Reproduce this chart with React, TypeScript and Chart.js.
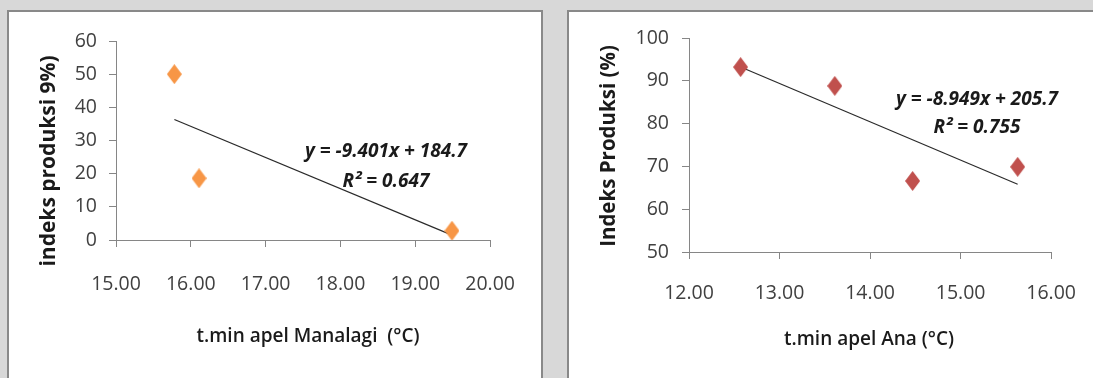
import React, { useEffect, useRef } from "react";
import { Chart, registerables } from "chart.js";

Chart.register(...registerables);

// ---- Data: Manalagi (left chart)
const manalagiTemp = [15.78, 16.11, 19.49];
const manalagiIndex = [50, 18.6, 2.8];
const manalagiSlope = -9.401;
const manalagiIntercept = 184.7;
const manalagiEquation = "y = -9.401x + 184.7";
const manalagiR2 = "R² = 0.647";
const manalagiXTitle = "t.min apel Manalagi  (°C)";
const manalagiYTitle = "indeks produksi 9%)";
const manalagiXRange = [15, 20];
const manalagiYRange = [0, 60];

// ---- Data: Ana (right chart)
const anaTemp = [12.57, 13.61, 14.47, 15.63];
const anaIndex = [93.2, 88.8, 66.6, 69.9];
const anaSlope = -8.949;
const anaIntercept = 205.7;
const anaEquation = "y = -8.949x + 205.7";
const anaR2 = "R² = 0.755";
const anaXTitle = "t.min apel Ana (°C)";
const anaYTitle = "Indeks Produksi (%)";
const anaXRange = [12, 16];
const anaYRange = [50, 100];

const FONT = "'Open Sans', 'Liberation Sans', sans-serif";

function makeDiamond(color: string) {
  const c = document.createElement("canvas");
  const w = 15;
  const h = 20;
  c.width = w;
  c.height = h;
  const g = c.getContext("2d")!;
  g.fillStyle = color;
  g.beginPath();
  g.moveTo(w / 2, 0);
  g.lineTo(w, h / 2);
  g.lineTo(w / 2, h);
  g.lineTo(0, h / 2);
  g.closePath();
  g.fill();
  return c;
}

type TextItem = {
  text: string;
  x: number;
  y: number;
  font: string;
  rotate?: number;
};

function textPlugin(items: TextItem[]) {
  return {
    id: "fixedTexts",
    afterDraw(chart: any) {
      const ctx = chart.ctx as CanvasRenderingContext2D;
      ctx.save();
      ctx.fillStyle = "#1a1a1a";
      ctx.textAlign = "center";
      ctx.textBaseline = "middle";
      for (const it of items) {
        ctx.save();
        ctx.font = it.font;
        ctx.translate(it.x, it.y);
        if (it.rotate) ctx.rotate(it.rotate);
        ctx.fillText(it.text, 0, 0);
        ctx.restore();
      }
      ctx.restore();
    },
  };
}

type Spec = {
  xs: number[];
  ys: number[];
  slope: number;
  intercept: number;
  color: string;
  xRange: number[];
  yRange: number[];
  axisLeft: number;
  axisBottom: number;
  padTop: number;
  padRight: number;
  xPad: number;
  yPad: number;
  texts: TextItem[];
};

function ScatterChart({ spec, width, height }: { spec: Spec; width: number; height: number }) {
  const ref = useRef<HTMLCanvasElement | null>(null);
  useEffect(() => {
    if (!ref.current) return;
    const minX = Math.min(...spec.xs);
    const maxX = Math.max(...spec.xs);
    const trend = [
      { x: minX, y: spec.slope * minX + spec.intercept },
      { x: maxX, y: spec.slope * maxX + spec.intercept },
    ];
    const axisColor = "#868686";
    const tickFont = { family: FONT, size: 19.5 };
    const chart = new Chart(ref.current, {
      type: "scatter",
      data: {
        datasets: [
          {
            data: spec.xs.map((x, i) => ({ x, y: spec.ys[i] })),
            pointStyle: makeDiamond(spec.color) as any,
            backgroundColor: spec.color,
            borderColor: spec.color,
            pointRadius: 8,
          },
          {
            type: "line" as any,
            data: trend,
            borderColor: "#2a2a2a",
            borderWidth: 1.2,
            pointRadius: 0,
            showLine: true,
            fill: false,
          } as any,
        ],
      },
      options: {
        animation: false,
        responsive: false,
        layout: { padding: { top: spec.padTop, right: spec.padRight, left: 0, bottom: 0 } },
        plugins: { legend: { display: false }, tooltip: { enabled: false } },
        scales: {
          x: {
            type: "linear",
            min: spec.xRange[0],
            max: spec.xRange[1],
            ticks: {
              stepSize: 1,
              color: "#404040",
              font: tickFont,
              padding: spec.xPad,
              callback: (v: any) => Number(v).toFixed(2),
            },
            grid: { drawOnChartArea: false, drawTicks: true, tickLength: 7, color: axisColor },
            border: { color: axisColor, width: 1 },
            afterFit: (s: any) => {
              s.height = height - spec.axisBottom;
            },
          },
          y: {
            type: "linear",
            min: spec.yRange[0],
            max: spec.yRange[1],
            ticks: { stepSize: 10, color: "#404040", font: tickFont, padding: spec.yPad },
            grid: { drawOnChartArea: false, drawTicks: true, tickLength: 7, color: axisColor },
            border: { color: axisColor, width: 1 },
            afterFit: (s: any) => {
              s.width = spec.axisLeft;
            },
          },
        },
      },
      plugins: [textPlugin(spec.texts)],
    } as any);
    return () => chart.destroy();
  }, []);
  return <canvas ref={ref} width={width} height={height} style={{ display: "block", width, height }} />;
}

const W_L = 532;
const W_R = 530;
const H = 366;

const leftSpec: Spec = {
  xs: manalagiTemp,
  ys: manalagiIndex,
  slope: manalagiSlope,
  intercept: manalagiIntercept,
  color: "#F79646",
  xRange: manalagiXRange,
  yRange: manalagiYRange,
  axisLeft: 107,
  axisBottom: 228,
  padTop: 29,
  padRight: 47,
  xPad: 26,
  yPad: 12,
  texts: [
    { text: manalagiYTitle, x: 40, y: 149, font: `bold 21px ${FONT}`, rotate: -Math.PI / 2 },
    { text: manalagiXTitle, x: 299, y: 325, font: `600 19px ${FONT}` },
    { text: manalagiEquation, x: 377, y: 140, font: `italic bold 19px ${FONT}` },
    { text: manalagiR2, x: 377, y: 170, font: `italic bold 19px ${FONT}` },
  ],
};

const rightSpec: Spec = {
  xs: anaTemp,
  ys: anaIndex,
  slope: anaSlope,
  intercept: anaIntercept,
  color: "#C0504D",
  xRange: anaXRange,
  yRange: anaYRange,
  axisLeft: 120,
  axisBottom: 240,
  padTop: 26,
  padRight: 46,
  xPad: 23,
  yPad: 13,
  texts: [
    { text: anaYTitle, x: 40, y: 134, font: `bold 20.5px ${FONT}`, rotate: -Math.PI / 2 },
    { text: anaXTitle, x: 300, y: 328, font: `600 19px ${FONT}` },
    { text: anaEquation, x: 408, y: 88, font: `italic bold 19px ${FONT}` },
    { text: anaR2, x: 408, y: 116, font: `italic bold 19px ${FONT}` },
  ],
};

export default function App() {
  const box: React.CSSProperties = {
    position: "absolute",
    top: 10,
    height: 380,
    border: "2px solid #898989",
    background: "#ffffff",
    boxSizing: "border-box",
    overflow: "hidden",
  };
  return (
    <div style={{ position: "relative", width: 1093, height: 378, overflow: "hidden", background: "#d8d8d8" }}>
      <style>{`body{margin:0}`}</style>
      <div style={{ ...box, left: 7, width: 536 }}>
        <ScatterChart spec={leftSpec} width={W_L} height={H} />
      </div>
      <div style={{ ...box, left: 567, width: 600 }}>
        <ScatterChart spec={rightSpec} width={W_R} height={H} />
      </div>
    </div>
  );
}
